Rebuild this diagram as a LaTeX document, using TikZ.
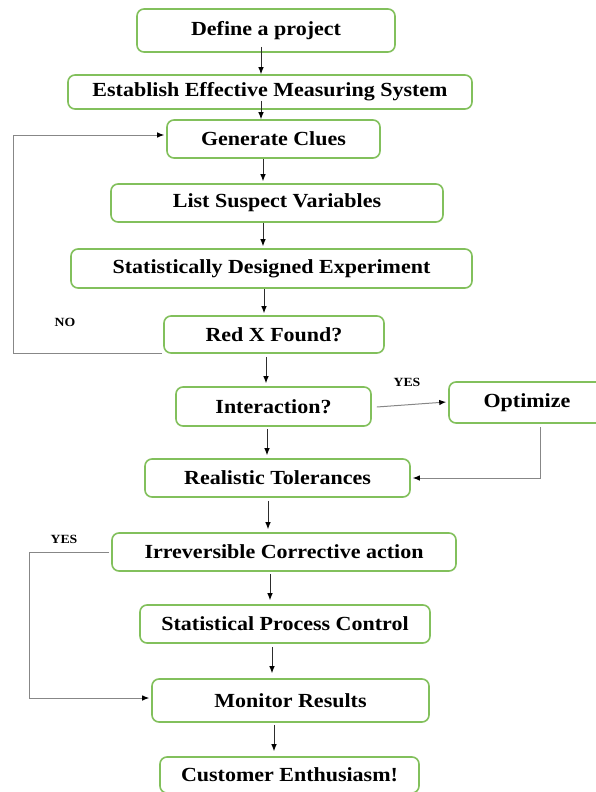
\documentclass[tikz,border=0pt]{standalone}
\usepackage{fontspec}
\setmainfont{Liberation Serif}[FakeStretch=1.1]
\usetikzlibrary{arrows.meta}
\definecolor{boxgreen}{RGB}{130,192,92}
\definecolor{darkln}{RGB}{45,45,45}
\definecolor{grayln}{RGB}{135,135,135}
\tikzset{
  box/.style={draw=boxgreen, line width=1.6pt, rounded corners=7pt, inner sep=0pt,
    fill=white, font=\fontsize{20}{24}\selectfont\bfseries, align=center},
  tip/.style={-{Latex[length=7pt,width=5.5pt,color=black]}},
  arr/.style={draw=darkln, line width=0.9pt, tip},
  fb/.style={draw=grayln, line width=1pt},
  lbl/.style={inner sep=0pt, font=\fontsize{12.5}{14}\selectfont\bfseries, text=black}
}
\begin{document}
\begin{tikzpicture}[x=1pt,y=-1pt]
\useasboundingbox (0,0) rectangle (595,792);
% boxes
\node[box, minimum width=258pt, minimum height=43pt] (def) at (266,30.5) {Define a project};
\node[box, minimum width=404pt, minimum height=34pt] (est) at (270,92) {Establish Effective Measuring System};
\node[box, minimum width=213pt, minimum height=38pt] (gen) at (273.5,139) {Generate Clues};
\node[box, minimum width=332pt, minimum height=38pt] (list) at (277,203) {List Suspect Variables};
\node[box, minimum width=401pt, minimum height=39pt] (stat) at (271.5,268.5) {Statistically Designed Experiment};
\node[box, minimum width=220pt, minimum height=37pt] (redx) at (274,334.5) {Red X Found?};
\node[box, minimum width=195pt, minimum height=39pt] (inter) at (273.5,406.5) {Interaction?};
\node[box, minimum width=156pt, minimum height=41pt] (opt) at (527,402.5) {Optimize};
\node[box, minimum width=265pt, minimum height=38pt] (real) at (277.5,478) {Realistic Tolerances};
\node[box, minimum width=344pt, minimum height=38pt] (irr) at (284,552) {Irreversible Corrective action};
\node[box, minimum width=290pt, minimum height=38pt] (spc) at (285,624) {Statistical Process Control};
\node[box, minimum width=277pt, minimum height=43pt] (mon) at (290.5,700.5) {Monitor Results};
\node[box, minimum width=259pt, minimum height=36pt] (cust) at (289.5,775) {Customer Enthusiasm!};
% labels
\node[lbl] (no) at (65,322) {NO};
\node[lbl] (yes1) at (407,382) {YES};
\node[lbl] (yes2) at (64,539) {YES};
% x positions of vertical arrows
\coordinate (a1) at (261,0);
\coordinate (a2) at (261,0);
\coordinate (a3) at (263,0);
\coordinate (a4) at (263,0);
\coordinate (a5) at (264,0);
\coordinate (a6) at (266,0);
\coordinate (a7) at (267,0);
\coordinate (a8) at (268,0);
\coordinate (a9) at (270,0);
\coordinate (a10) at (272,0);
\coordinate (a11) at (274,0);
\draw[arr] ([yshift=6pt]def.south -| a1) -- (est.north -| a1);
\draw[arr] ([yshift=9pt]est.south -| a2) -- (gen.north -| a2);
\draw[arr] (gen.south -| a3) -- ([yshift=2pt]list.north -| a3);
\draw[arr] (list.south -| a4) -- ([yshift=2pt]stat.north -| a4);
\draw[arr] (stat.south -| a5) -- ([yshift=2pt]redx.north -| a5);
\draw[arr] ([yshift=-3pt]redx.south -| a6) -- ([yshift=3pt]inter.north -| a6);
\draw[arr] ([yshift=-2pt]inter.south -| a7) -- ([yshift=3pt]real.north -| a7);
\draw[arr] ([yshift=-3pt]real.south -| a8) -- ([yshift=3pt]irr.north -| a8);
\draw[arr] ([yshift=-2pt]irr.south -| a9) -- ([yshift=4pt]spc.north -| a9);
\draw[arr] ([yshift=-3pt]spc.south -| a10) -- ([yshift=5pt]mon.north -| a10);
\draw[arr] ([yshift=-2pt]mon.south -| a11) -- ([yshift=5pt]cust.north -| a11);
% side connectors
\draw[fb, tip] ([xshift=5pt,yshift=-0.5pt]inter.east) -- ([xshift=-2pt,yshift=0.5pt]opt.west);
\draw[fb, tip] ([xshift=13pt,yshift=-3pt]opt.south) |- ([xshift=2pt]real.east);
\coordinate (nl) at (13,0);
\draw[fb, tip] ([xshift=-1pt,yshift=0.3pt]redx.south west) -| ([yshift=4pt]gen.west -| nl) -- ([xshift=-2pt,yshift=4pt]gen.west);
\coordinate (yl) at (29,0);
\draw[fb, tip] ([xshift=-2pt]irr.west) -| ([yshift=2.5pt]mon.west -| yl) -- ([xshift=-2pt,yshift=2.5pt]mon.west);
\end{tikzpicture}
\end{document}
